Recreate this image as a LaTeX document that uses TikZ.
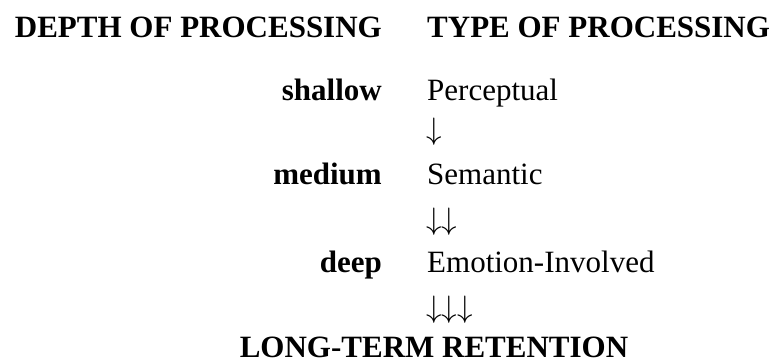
\RequirePackage{fix-cm}
\documentclass[tikz,border=0pt]{standalone}
\usepackage{fontspec}
\setmainfont{Liberation Serif}
\usetikzlibrary{positioning}

\tikzset{
  big/.style={inner sep=0pt, font=\fontsize{31}{37}\selectfont},
  head/.style={big, font=\fontsize{31}{37}\selectfont\bfseries},
  depth/.style={head, anchor=base east},
  kind/.style={big, anchor=base west},
}

\begin{document}
\begin{tikzpicture}[x=1pt, y=-1pt]
\useasboundingbox (0,0) rectangle (774,362);

\node (dhead) at (382, 37) [depth] {DEPTH OF PROCESSING};
\node (thead) at (427, 37) [head, anchor=base west] {TYPE OF PROCESSING};

\node (shallow) at (382, 100) [depth] {shallow};
\node (percept) at (427, 100) [kind] {Perceptual};
\node (arr1) at (426, 139) [kind] {$\downarrow$};

\node (medium) at (382, 184) [depth] {medium};
\node (semant) at (427, 184) [kind] {Semantic};
\node (arr2) at (426, 229) [kind] {$\downarrow\downarrow$};

\node (deep) at (382, 272) [depth] {deep};
\node (emot) at (427, 272) [kind] {Emotion-Involved};
\node (arr3) at (426, 317) [kind] {$\downarrow\downarrow\downarrow$};

\node (ltr) at (434, 357) [head, anchor=base] {LONG-TERM RETENTION};
\end{tikzpicture}
\end{document}
